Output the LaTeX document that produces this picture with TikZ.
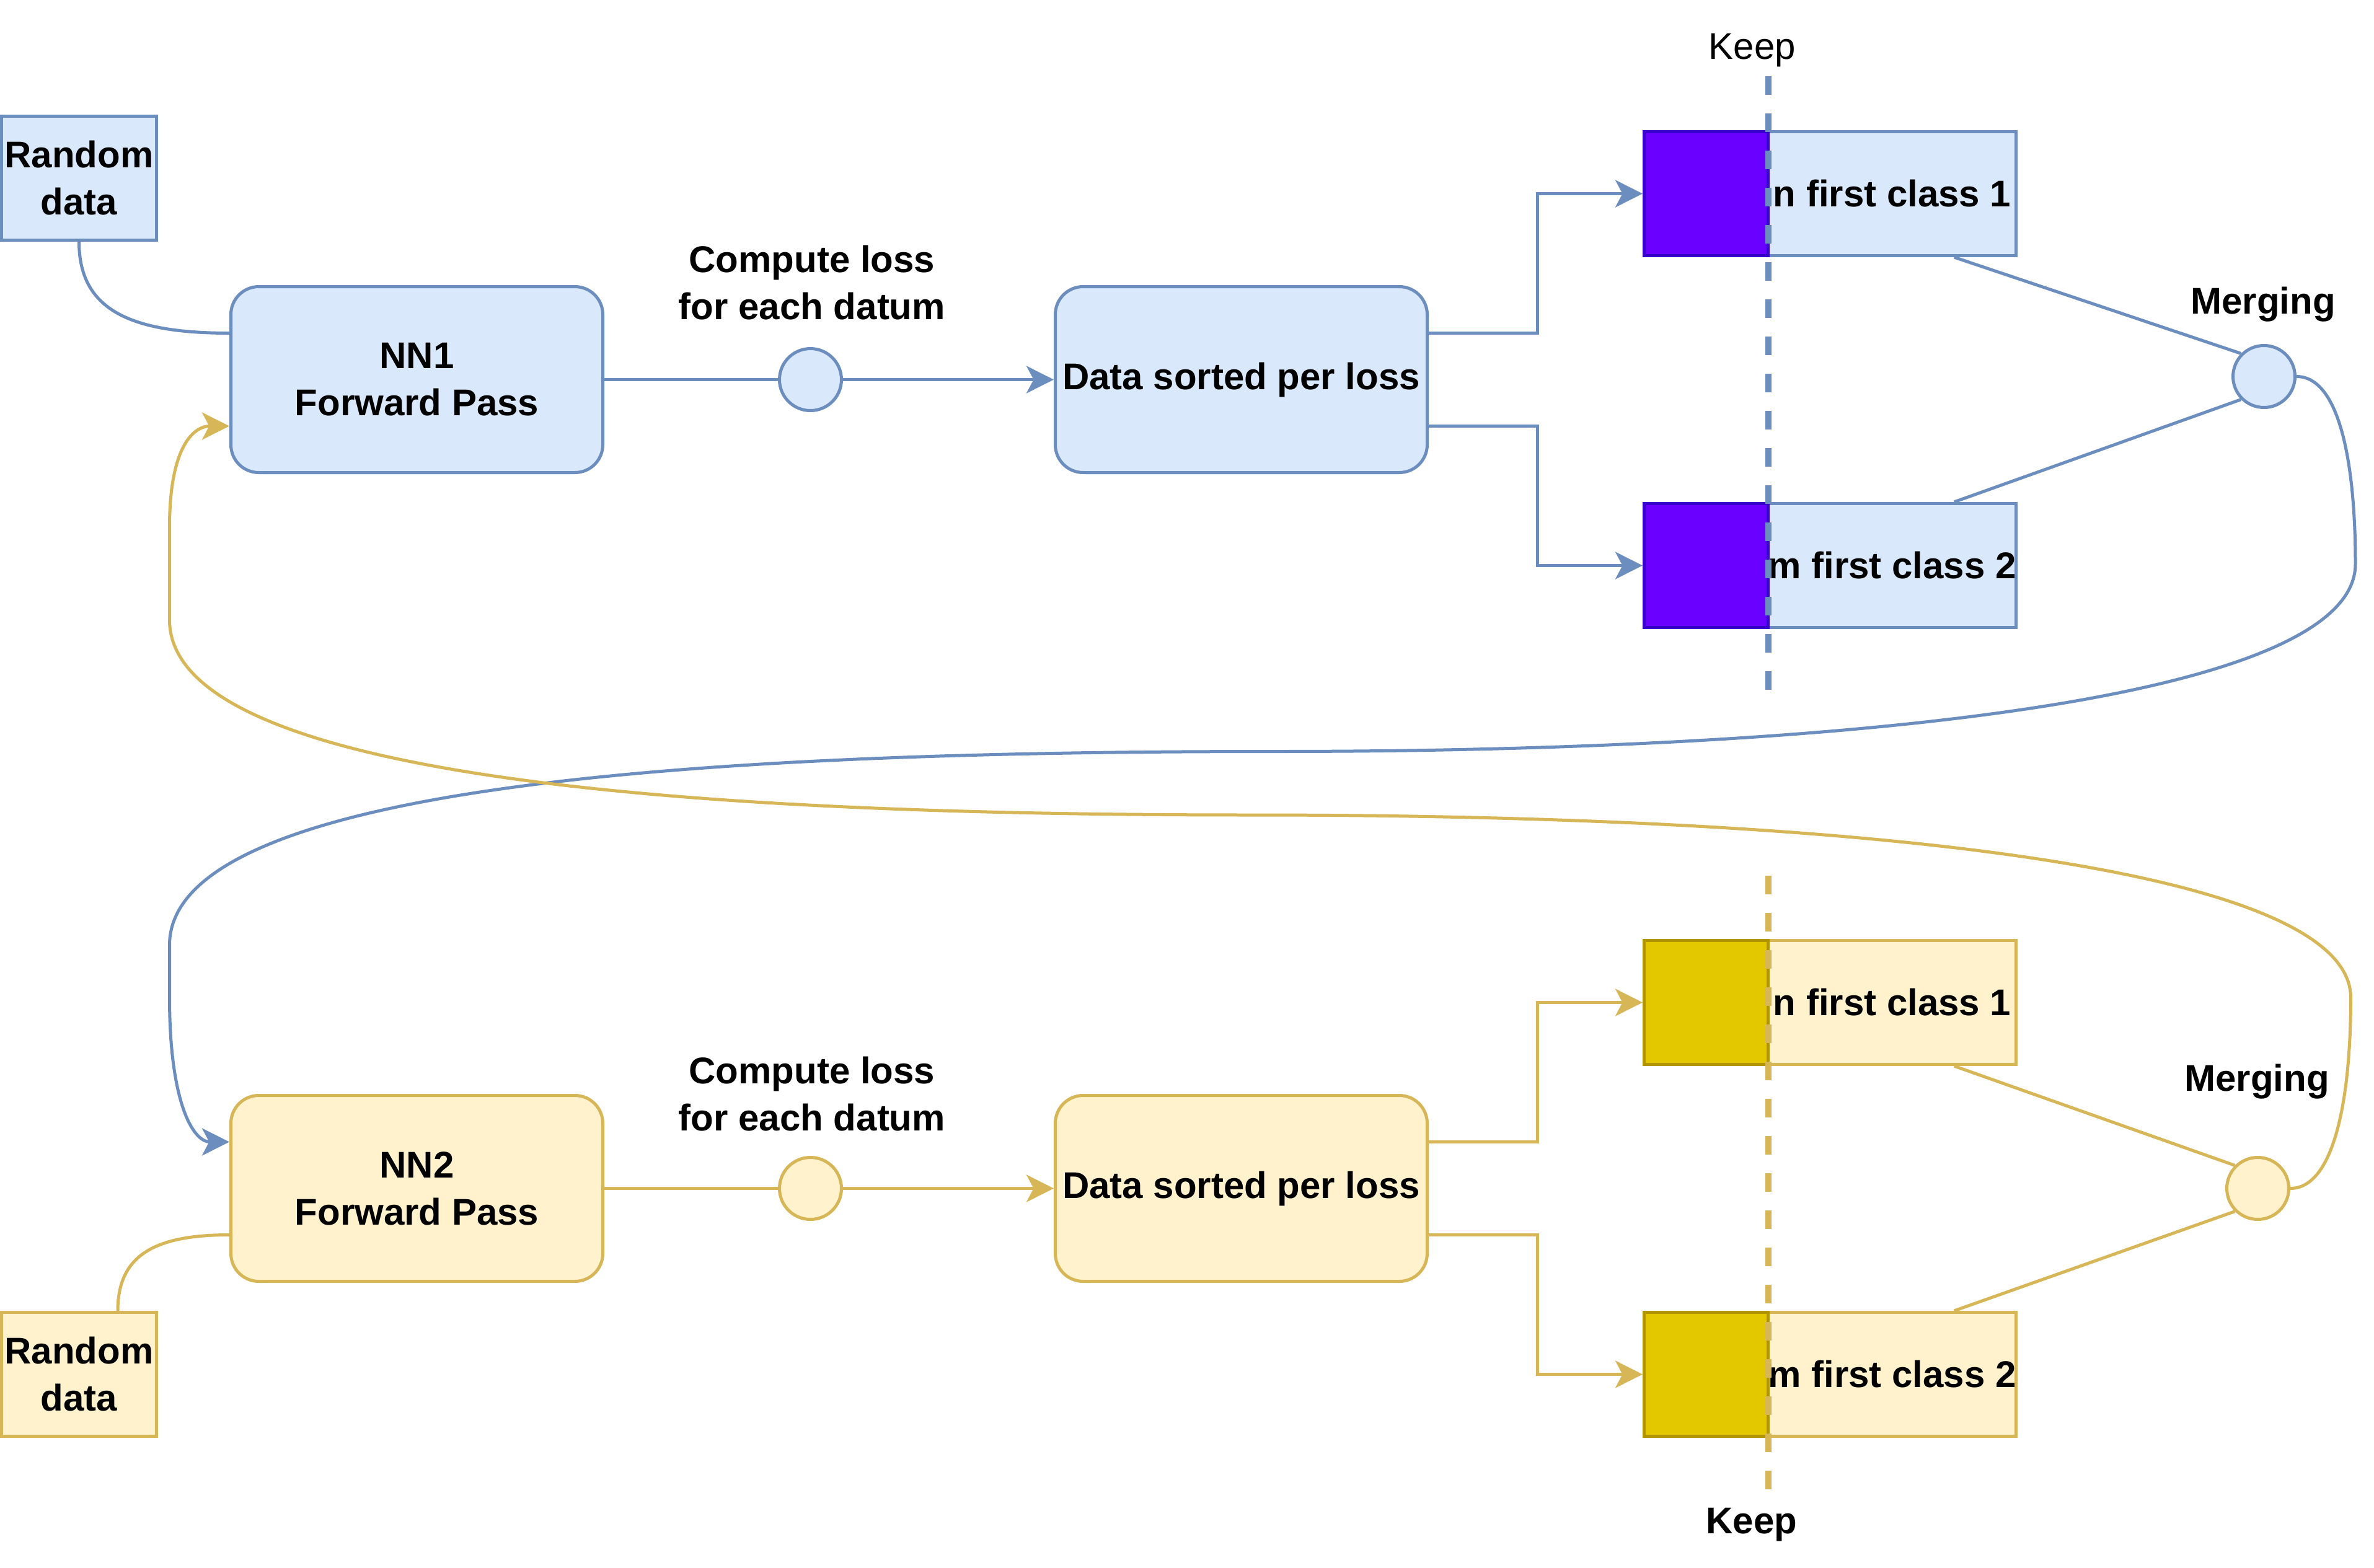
\documentclass[tikz,border=0pt]{standalone}
\usepackage{fontspec}
\setmainfont{Liberation Sans}
\usetikzlibrary{arrows.meta}
\definecolor{bfill}{HTML}{DAE8FC}
\definecolor{bline}{HTML}{6C8EBF}
\definecolor{yfill}{HTML}{FFF2CC}
\definecolor{yline}{HTML}{D6B656}
\definecolor{pfill}{HTML}{6A00FF}
\definecolor{pline}{HTML}{3700CC}
\definecolor{gfill}{HTML}{E3C800}
\definecolor{gline}{HTML}{B09500}
\tikzset{
  txt/.style={font=\fontsize{12pt}{15.2pt}\selectfont\bfseries, align=center, inner sep=0pt},
  plaintxt/.style={font=\fontsize{12pt}{15.2pt}\selectfont, inner sep=0pt},
  bbox/.style={draw=bline, fill=bfill, line width=1pt},
  ybox/.style={draw=yline, fill=yfill, line width=1pt},
  pbox/.style={draw=pline, fill=pfill, line width=1pt},
  gbox/.style={draw=gline, fill=gfill, line width=1pt},
  rbox/.style={rectangle, minimum width=50pt, minimum height=40pt, txt},
  nnbox/.style={rectangle, rounded corners=9pt, minimum width=120pt, minimum height=60pt, txt},
  dot/.style={circle, minimum size=20pt, inner sep=0pt},
  keepbox/.style={rectangle, minimum width=80pt, minimum height=40pt, txt},
  cutbox/.style={rectangle, minimum width=40pt, minimum height=40pt, inner sep=0pt},
  bl/.style={draw=bline, line width=1pt},
  yl/.style={draw=yline, line width=1pt},
  tip/.style={-{Stealth[length=8.8pt,width=8.8pt,inset=2.3pt]}},
  dashline/.style={line width=2pt, dash pattern=on 6pt off 6pt}
}
\begin{document}
\begin{tikzpicture}[x=1pt,y=-1pt]
\useasboundingbox (0,0) rectangle (766,506);

% ---------- upper (blue) part ----------
\node[rbox,bbox] (r1) at (25.5,57.5) {Random\\data};
\node[nnbox,bbox] (nn1) at (134.5,122.5) {NN1\\Forward Pass};
\node[dot,bbox] (c1) at (261.5,122.5) {};
\node[txt] (cl1) at (262,91.2) {Compute loss\\for each datum};
\node[nnbox,bbox] (ds1) at (400.5,122.5) {Data sorted per loss};
\node[keepbox,bbox] (l1) at (610.5,62.5) {n first class 1};
\node[cutbox,pbox] (p1) at (550.5,62.5) {};
\node[keepbox,bbox] (l2) at (610.5,182.5) {m first class 2};
\node[cutbox,pbox] (p2) at (550.5,182.5) {};
\node[dot,bbox] (m1) at (730.5,121.5) {};
\node[txt,anchor=base] (mt1) at (730.2,101.2) {Merging};
\node[plaintxt,anchor=base] (k1) at (565.4,19.1) {Keep};

% ---------- lower (yellow) part ----------
\node[rbox,ybox] (r2) at (25.5,443.5) {Random\\data};
\node[nnbox,ybox] (nn2) at (134.5,383.5) {NN2\\Forward Pass};
\node[dot,ybox] (c2) at (261.5,383.5) {};
\node[txt] (cl2) at (262,353.0) {Compute loss\\for each datum};
\node[nnbox,ybox] (ds2) at (400.5,383.5) {Data sorted per loss};
\node[keepbox,ybox] (l3) at (610.5,323.5) {n first class 1};
\node[cutbox,gbox] (p3) at (550.5,323.5) {};
\node[keepbox,ybox] (l4) at (610.5,443.5) {m first class 2};
\node[cutbox,gbox] (p4) at (550.5,443.5) {};
\node[dot,ybox] (m2) at (728.5,383.5) {};
\node[txt,anchor=base] (mt2) at (728.2,352) {Merging};
\node[txt,anchor=base] (k2) at (565.2,494.8) {Keep};

% ---------- upper connectors ----------
\draw[bl] (r1.south) .. controls (25.5,100) and (42,107.5) .. ([yshift=15pt]nn1.west);
\draw[bl] (nn1.east) -- (c1.west);
\draw[bl,tip] (c1.east) -- (ds1.west);
\draw[bl,tip] ([yshift=15pt]ds1.east) -- ++(35,0) |- (p1.west);
\draw[bl,tip] ([yshift=-15pt]ds1.east) -- ++(35,0) |- (p2.west);
\draw[bl] ([xshift=20pt]l1.south) -- (m1.135);
\draw[bl] ([xshift=20pt]l2.north) -- (m1.225);

% ---------- lower connectors ----------
\draw[yl] ([xshift=12.5pt]r2.north) .. controls (38,405) and (50,398.5) .. ([yshift=-15pt]nn2.west);
\draw[yl] (nn2.east) -- (c2.west);
\draw[yl,tip] (c2.east) -- (ds2.west);
\draw[yl,tip] ([yshift=15pt]ds2.east) -- ++(35,0) |- (p3.west);
\draw[yl,tip] ([yshift=-15pt]ds2.east) -- ++(35,0) |- (p4.west);
\draw[yl] ([xshift=20pt]l3.south) -- (m2.135);
\draw[yl] ([xshift=20pt]l4.north) -- (m2.225);

% ---------- feedback curves ----------
\draw[bl,tip] (m1.east) .. controls (755,121.5) and (760,150) .. (760,182)
  .. controls (760,225) and (600,242.5) .. (412,242.5)
  .. controls (250,242.5) and (54.7,250) .. (54.7,305)
  -- (54.7,322) .. controls (54.7,355) and (62,368.5) .. ([yshift=15pt]nn2.west);
\draw[yl,tip] (m2.east) .. controls (753,383.5) and (758.5,355) .. (758.5,322)
  .. controls (758.5,280) and (600,263) .. (404,263)
  .. controls (250,263) and (54.7,255) .. (54.7,200)
  -- (54.7,170) .. controls (54.7,145) and (62,137.5) .. ([yshift=-15pt]nn1.west);

% ---------- keep thresholds ----------
\coordinate (kt1) at (570.5,24.5);
\coordinate (kb1) at (570.5,222.5);
\coordinate (kt2) at (570.5,282.5);
\coordinate (kb2) at (570.5,480.5);
\draw[bl,dashline] (kt1) -- (kb1);
\draw[yl,dashline] (kt2) -- (kb2);
\end{tikzpicture}
\end{document}
